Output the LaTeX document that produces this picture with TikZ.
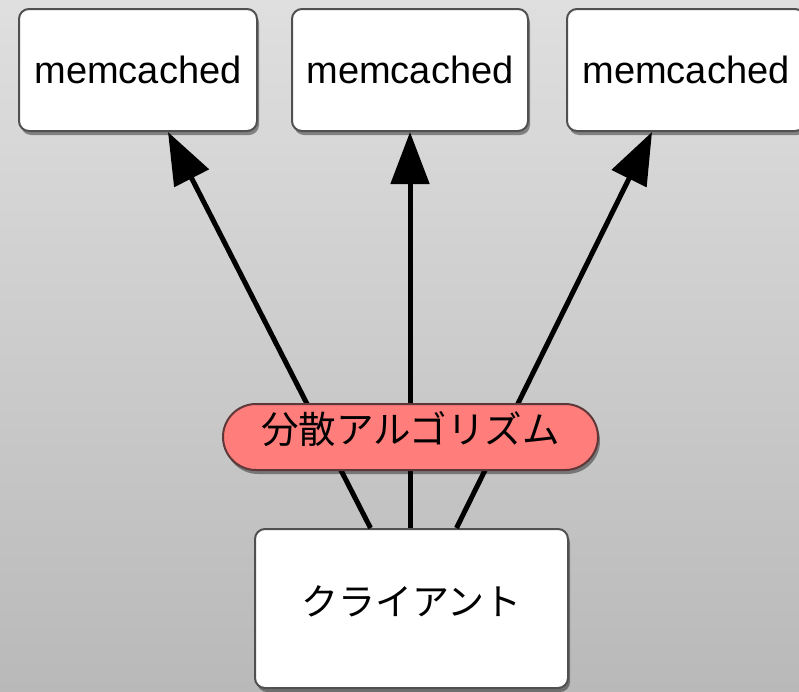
\documentclass[tikz,border=0pt]{standalone}
\usepackage{fontspec}
\setmainfont{Liberation Sans}
\newfontfamily\jpfont{Noto Sans CJK JP}
\usetikzlibrary{arrows.meta,shadows}
\definecolor{bgtop}{HTML}{DFDFDF}
\definecolor{bgbottom}{HTML}{B9B9B9}
\definecolor{boxline}{HTML}{505050}
\definecolor{pillfill}{HTML}{FF7D7B}
\definecolor{pillline}{HTML}{5E3838}
\tikzset{
  softshadow/.style={drop shadow={shadow xshift=2pt, shadow yshift=-4pt, fill=black, opacity=0.4}},
  server/.style={draw=boxline, line width=2pt, fill=white, rounded corners=10pt,
    minimum width=238pt, minimum height=122pt, inner sep=0pt, softshadow,
    font=\fontsize{38}{40}\selectfont},
  client/.style={draw=boxline, line width=2pt, fill=white, rounded corners=10pt,
    minimum width=313pt, minimum height=159pt, inner sep=0pt, softshadow,
    font=\jpfont\fontsize{37}{40}\selectfont, text height=28pt, text depth=15pt},
  pill/.style={draw=pillline, line width=2pt, fill=pillfill, rounded corners=33pt,
    minimum width=375pt, minimum height=66pt, inner sep=0pt, softshadow,
    font=\jpfont\fontsize{37.5}{40}\selectfont, text height=28pt, text depth=16pt},
  link/.style={line width=5pt, -{Triangle[length=52pt,width=38pt]}},
}
\begin{document}
\begin{tikzpicture}[x=1pt,y=-1pt]
  % background
  \shade[top color=bgtop, bottom color=bgbottom] (0,0) rectangle (799,691);
  \useasboundingbox (0,0) rectangle (799,691);

  % servers
  \node[server] (m1) at (138,70) {memcached};
  \node[server, minimum width=236pt] (m2) at (410,70) {memcached};
  \node[server] (m3) at (686,70) {memcached};

  % client
  \node[client] (cl) at (411.5,608.5) {クライアント};

  % connections
  \draw[link] ([xshift=-41pt]cl.north) -- ([xshift=30pt]m1.south);
  \draw[link] ([xshift=-1.5pt]cl.north) -- (m2.south);
  \draw[link] ([xshift=45pt]cl.north) -- ([xshift=-34pt]m3.south);

  % distribution algorithm
  \node[pill] (alg) at (410.5,437) {分散アルゴリズム};
\end{tikzpicture}
\end{document}
